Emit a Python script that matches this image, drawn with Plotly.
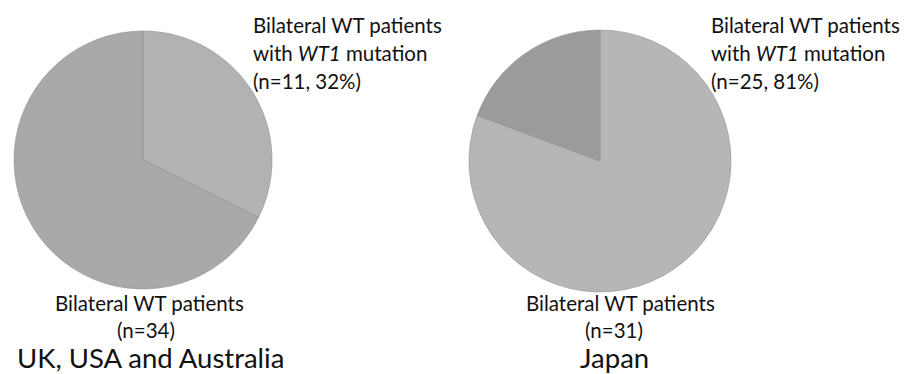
import plotly.graph_objects as go

# Bilateral Wilms tumour cohorts: WT1 mutation carriers vs. the rest
groups = ["UK, USA and Australia", "Japan"]
totals = [34, 31]
wt1_mutated = [11, 25]
wt1_percent = [32, 81]
slice_names = ["WT1 mutation", "No WT1 mutation"]

W, H = 914, 374
FONT = "Lato"
SMALL, LARGE = 20.5, 27.5


def px(x):
    return x / W


def py(y):
    return 1 - y / H


def mid(baseline, size):
    # vertical centre of an annotation box whose text sits on `baseline`
    return baseline - 0.387 * size


# pie boxes in pixels: (left, right, top, bottom)
pie_boxes = [(13, 273, 31, 289), (469, 731, 30, 292)]
pie_colors = [["#b2b2b2", "#a9a9a9"], ["#b6b6b6", "#9b9b9b"]]

fig = go.Figure()
for i in range(2):
    l, r, t, b = pie_boxes[i]
    fig.add_trace(go.Pie(
        labels=slice_names,
        values=[wt1_mutated[i], totals[i] - wt1_mutated[i]],
        sort=False,
        direction="clockwise",
        rotation=0,
        textinfo="none",
        hoverinfo="label+value+percent",
        marker=dict(colors=pie_colors[i], line=dict(color="#909090", width=0.6)),
        domain=dict(x=[px(l), px(r)], y=[py(b), py(t)]),
        showlegend=False,
    ))

annotations = []


def add_text(text, x, baseline, size, anchor):
    annotations.append(dict(
        x=px(x), y=py(mid(baseline, size)), xref="paper", yref="paper",
        xanchor=anchor, yanchor="middle", borderpad=0,
        text=text, showarrow=False,
        font=dict(family=FONT, size=size, color="#111111"),
    ))


# labels for the mutation slices, upper right of each pie
top_label_x = [252, 710]
top_baselines = [32.5, 61, 88.5]
for i in range(2):
    lines = ["Bilateral WT patients",
             "with <i>WT1</i> mutation",
             f"(n={wt1_mutated[i]}, {wt1_percent[i]}%)"]
    for line, base in zip(lines, top_baselines):
        add_text(line, top_label_x[i], base, SMALL, "left")

# labels under each pie
bottom_cx = [149, 620]
count_cx = [146, 614]
for i in range(2):
    add_text("Bilateral WT patients", bottom_cx[i], 311, SMALL, "center")
    add_text(f"(n={totals[i]})", count_cx[i], 337.5, SMALL, "center")

# group names
group_cx = [150, 614]
for i in range(2):
    add_text(groups[i], group_cx[i], 368, LARGE, "center")

fig.update_layout(
    width=W, height=H,
    margin=dict(l=0, r=0, t=0, b=0),
    paper_bgcolor="white",
    plot_bgcolor="white",
    annotations=annotations,
)

fig.write_html("out.html")
